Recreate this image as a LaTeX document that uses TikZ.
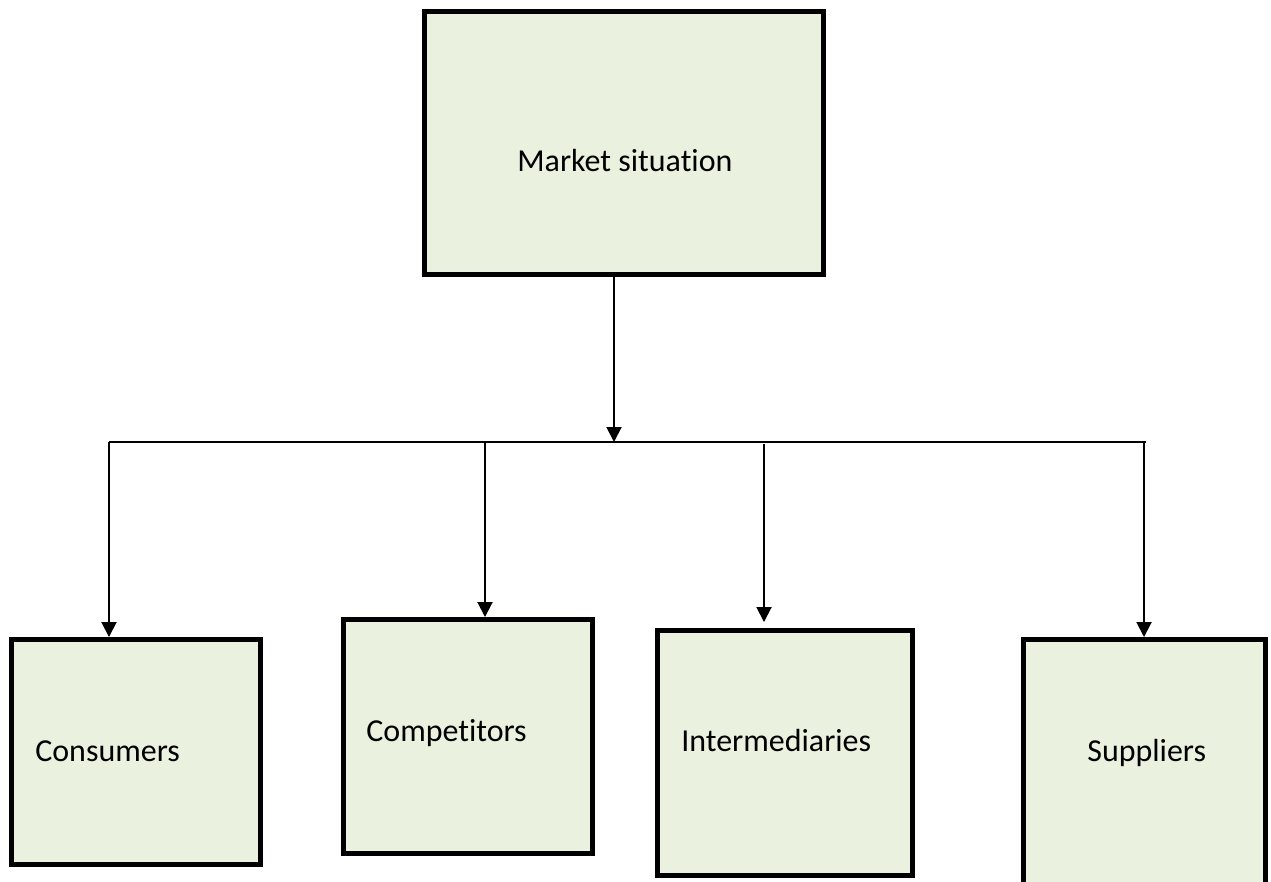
\documentclass[tikz,border=0pt]{standalone}
\usepackage{fontspec}
\setmainfont{Carlito}[Ligatures=NoCommon]
\usepackage{xcolor}
\usetikzlibrary{positioning,arrows.meta}
\definecolor{boxfill}{RGB}{234,241,222}

\begin{document}
\begin{tikzpicture}[x=0.02cm,y=-0.02cm]%[1 unit = 1 pixel]
    \tikzstyle{box} = [rectangle, draw, line width=2.85pt, fill=boxfill,
    inner sep=0pt] \tikzstyle{lbl} = [anchor=base west, inner sep=0pt,
    font=\fontsize{18.2}{22}\selectfont] \tikzstyle{conn} = [line
    width=1.1pt, -{Triangle[length=0.3cm,width=0.3cm]}]
    \tikzstyle{bar} = [line width=1pt]
    \useasboundingbox (0,0) rectangle (1271,882);
    \node[box, minimum width=7.98cm, minimum height=5.26cm] (mkt) at
    (624,143) {}; \node[box, minimum width=4.98cm, minimum
    height=4.5cm] (cons) at (136,752) {}; \node[box, minimum
    width=4.98cm, minimum height=4.68cm] (comp) at (468,736.5) {};
    \node[box, minimum width=5.1cm, minimum height=4.9cm] (inter) at
    (785,753) {}; \node[box, minimum width=4.85cm, minimum
    height=4.95cm] (supp) at (1144.75,763.25) {};
    \node[lbl] (mktl) at (517,172) {Market situation};
    \node[lbl] (consl) at (35,761) {Consumers};
    \node[lbl] (compl) at (366,741) {Competitors};
    \node[lbl] (interl) at (681,751) {Intermediaries};
    \node[lbl] (suppl) at (1087,761) {Suppliers};
    \coordinate (hub) at (614,442); \coordinate (bl) at (109,442);
    \coordinate (br) at (1146,442);
    \draw[conn] (mkt.south -| hub) -- (hub);
    \draw[bar] (bl) -- (br);
    \draw[conn] (bl) -- (bl |- cons.north);
    \draw[conn] (485,442) coordinate (c2) -- (c2 |- comp.north);
    \draw[conn] (764,444) coordinate (c3) -- ([yshift=0.12cm]c3 |-
    inter.north);
    \draw[conn] (1144,442) coordinate (c4) -- (c4 |- supp.north);
  \end{tikzpicture}
\end{document}
